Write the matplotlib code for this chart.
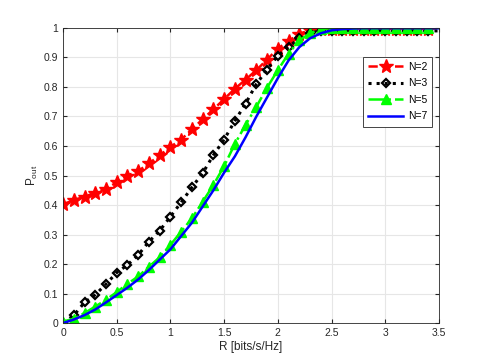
import matplotlib
matplotlib.use("Agg")
import matplotlib.pyplot as plt
import numpy as np

# rate axis, one sample every 0.1 bits/s/Hz
r_vals = np.round(np.arange(0, 3.51, 0.1), 2)

p_n2 = [0.402, 0.417, 0.428, 0.442, 0.455, 0.477, 0.500, 0.515, 0.541, 0.568,
        0.597, 0.622, 0.656, 0.691, 0.724, 0.759, 0.794, 0.825, 0.857, 0.893,
        0.930, 0.956, 0.980, 0.993, 0.997, 0.998, 0.998, 0.998, 0.998, 0.998,
        0.998, 0.998, 0.998, 0.998, 0.998, 0.998]
p_n3 = [0.000, 0.026, 0.070, 0.096, 0.132, 0.171, 0.197, 0.231, 0.276, 0.313,
        0.361, 0.409, 0.460, 0.508, 0.569, 0.622, 0.685, 0.744, 0.810, 0.859,
        0.906, 0.936, 0.965, 0.983, 0.990, 0.990, 0.990, 0.990, 0.990, 0.990,
        0.990, 0.990, 0.990, 0.990, 0.990, 0.990]
p_n5 = [0.005, 0.015, 0.034, 0.056, 0.079, 0.105, 0.133, 0.158, 0.191, 0.223,
        0.265, 0.310, 0.355, 0.411, 0.468, 0.532, 0.607, 0.672, 0.733, 0.798,
        0.857, 0.913, 0.958, 0.982, 0.995, 1.000, 1.000, 1.000, 1.000, 1.000,
        1.000, 1.000, 1.000, 1.000, 1.000, 1.000]
p_n7 = [0.000, 0.012, 0.027, 0.046, 0.070, 0.095, 0.120, 0.148, 0.180, 0.215,
        0.250, 0.295, 0.340, 0.395, 0.450, 0.510, 0.565, 0.630, 0.700, 0.765,
        0.830, 0.890, 0.935, 0.965, 0.982, 0.992, 0.996, 0.998, 0.999, 0.999,
        0.999, 0.999, 0.999, 0.999, 0.999, 0.999]

labels = ["N=2", "N=3", "N=5", "N=7"]

plt.rcParams['font.family'] = ['Liberation Sans', 'DejaVu Sans']
plt.rcParams['font.size'] = 7.5

fig = plt.figure(figsize=(4.85, 3.63), dpi=100)
ax = fig.add_axes([0.13, 0.11, 0.775, 0.813])

marks = slice(0, 35)
ax.plot(r_vals, p_n2, '--', color='red', lw=1.8, marker='*', ms=10,
        markevery=marks, label=labels[0])
ax.plot(r_vals, p_n3, ':', color='black', lw=2.2, marker='D', ms=4,
        mfc='none', mew=1.6, markevery=marks, label=labels[1])
ax.plot(r_vals, p_n5, '-.', color='#00ff00', lw=1.8, marker='^', ms=6.5,
        markevery=marks, label=labels[2])
ax.plot(r_vals, p_n7, '-', color='#0000ff', lw=1.8, label=labels[3])

ax.set_xlim(0, 3.5)
ax.set_ylim(0, 1)
ax.set_xticks(np.arange(0, 3.51, 0.5))
ax.set_xticklabels(["0", "0.5", "1", "1.5", "2", "2.5", "3", "3.5"])
ax.set_yticks(np.arange(0, 1.01, 0.1))
ax.set_yticklabels(["0"] + [f"{v:.1f}" for v in np.arange(0.1, 0.95, 0.1)] + ["1"])
ax.grid(True, color='#e6e6e6', lw=0.8)
ax.set_axisbelow(True)
ax.tick_params(direction='in', top=True, right=True, length=3, colors='#262626',
               labelcolor='#262626')
for s in ax.spines.values():
    s.set_color('#262626')
    s.set_linewidth(0.6)

ax.set_xlabel("R [bits/s/Hz]", fontsize=8.5, color='#262626', labelpad=2)
ax.set_ylabel(r"P$_{\mathregular{out}}$", fontsize=8.5, color='#262626', labelpad=3)

leg = ax.legend(loc='upper right', bbox_to_anchor=(0.996, 0.92), fontsize=7.5,
                fancybox=False, framealpha=1, edgecolor='#262626',
                handlelength=3.4, handletextpad=0.4, borderpad=0.5,
                labelspacing=0.62)
leg.get_frame().set_linewidth(0.6)

fig.savefig("out.png", dpi=100)
